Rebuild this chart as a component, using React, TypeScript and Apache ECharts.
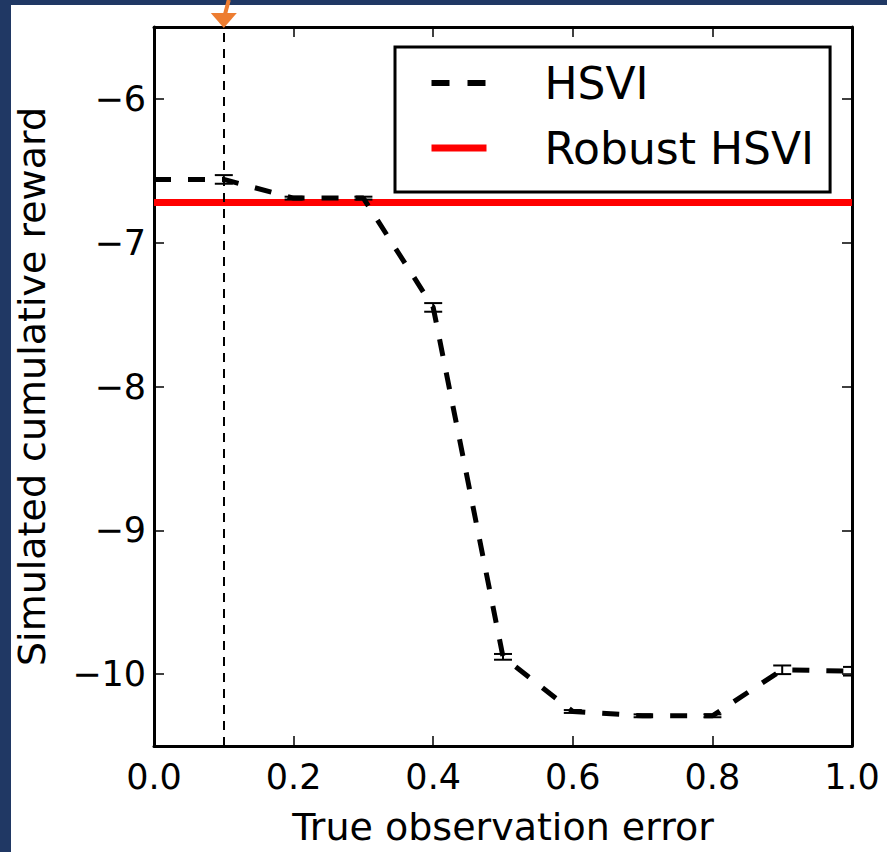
import React, { useEffect, useRef } from 'react';
import * as echarts from 'echarts';

const xValues = [0, 0.1, 0.2, 0.3, 0.4, 0.5, 0.6, 0.7, 0.8, 0.9, 1.0];
const hsviMean = [-6.56, -6.56, -6.69, -6.69, -7.45, -9.88, -10.26, -10.29, -10.29, -9.97, -9.98];
const hsviErr = [0.01, 0.03, 0.01, 0.01, 0.03, 0.02, 0.01, 0.01, 0.01, 0.03, 0.03];
const robustX = [0, 1];
const robustValues = [-6.72, -6.72];
const markerX = 0.1;
const seriesNames = ['HSVI', 'Robust HSVI'];
const xTitle = 'True observation error';
const yTitle = 'Simulated cumulative reward';

const FONT = 'DejaVu Sans';

const mkLine = () => ({ show: true, onZero: false, lineStyle: { color: '#000', width: 3 } });
const mkTick = () => ({ show: true, inside: true, length: 10, lineStyle: { color: '#000', width: 1.5 } });

export default function App() {
  const ref = useRef<HTMLDivElement>(null);
  useEffect(() => {
    const chart = echarts.init(ref.current!, null, { renderer: 'svg' });
    const option: any = {
      animation: false,
      backgroundColor: '#ffffff',
      grid: { left: 154, top: 27, right: 35, bottom: 106, containLabel: false },
      legend: {
        left: 395,
        top: 47,
        orient: 'vertical',
        data: [
          { name: seriesNames[0], itemStyle: { color: 'rgba(0,0,0,0)', borderWidth: 0 }, lineStyle: { color: '#000', width: 6, type: [18, 18] } },
          { name: seriesNames[1], itemStyle: { color: 'rgba(0,0,0,0)', borderWidth: 0 }, lineStyle: { color: '#ff0000', width: 7, type: 'solid' } },
        ],
        padding: [14, 16, 22, 33],
        itemGap: 21,
        itemWidth: 55,
        itemHeight: 14,
        borderColor: '#000',
        borderWidth: 3,
        borderRadius: 0,
        backgroundColor: '#fff',
        textStyle: { fontFamily: FONT, fontSize: 44, color: '#000', padding: [0, 0, 0, 53] },
      },
      xAxis: [
        {
          type: 'value', min: 0, max: 1, interval: 0.2, position: 'bottom',
          name: xTitle, nameLocation: 'middle', nameGap: 62,
          nameTextStyle: { fontFamily: FONT, fontSize: 38, color: '#000' },
          axisLine: mkLine(), axisTick: mkTick(), splitLine: { show: false },
          axisLabel: { fontFamily: FONT, fontSize: 35, color: '#000', margin: 13, formatter: (v: number) => v.toFixed(1) },
        },
        {
          type: 'value', min: 0, max: 1, interval: 0.2, position: 'top',
          axisLine: mkLine(), axisTick: mkTick(), splitLine: { show: false }, axisLabel: { show: false },
        },
      ],
      yAxis: [
        {
          type: 'value', min: -10.5, max: -5.5, position: 'left',
          name: yTitle, nameLocation: 'middle', nameGap: 103,
          nameTextStyle: { fontFamily: FONT, fontSize: 38, color: '#000' },
          axisLine: mkLine(), axisTick: mkTick(), splitLine: { show: false },
          axisLabel: {
            fontFamily: FONT, fontSize: 35, color: '#000', margin: 8,
            formatter: (v: number) => (Math.abs(v - Math.round(v)) < 1e-6 ? String(Math.round(v)).replace('-', '\u2212') : ''),
          },
        },
        {
          type: 'value', min: -10.5, max: -5.5, position: 'right',
          axisLine: mkLine(), axisTick: mkTick(), splitLine: { show: false }, axisLabel: { show: false },
        },
      ],
      series: [
        {
          name: 'Robust HSVI', type: 'line', symbol: 'none', z: 2,
          data: robustX.map((x, i) => [x, robustValues[i]]),
          lineStyle: { color: '#ff0000', width: 7 },
          itemStyle: { color: '#ff0000' },
        },
        {
          name: 'HSVI', type: 'line', symbol: 'none', z: 4,
          data: xValues.map((x, i) => [x, hsviMean[i]]),
          lineStyle: { color: '#000', width: 5, type: [17, 17], cap: 'butt' },
          itemStyle: { color: '#000' },
          markLine: {
            silent: true, symbol: ['none', 'none'], label: { show: false },
            lineStyle: { color: '#000', width: 2, type: [9, 7] },
            data: [{ xAxis: markerX }],
          },
        },
        {
          name: 'err', type: 'custom', z: 5, clip: true, silent: true,
          data: xValues.map((x, i) => [x, hsviMean[i] - hsviErr[i], hsviMean[i] + hsviErr[i]]),
          encode: { x: 0, y: [1, 2] },
          renderItem: (params: any, api: any) => {
            const x = api.value(0);
            const pLo = api.coord([x, api.value(1)]);
            const pHi = api.coord([x, api.value(2)]);
            const w = 9;
            const style = { stroke: '#000', lineWidth: 2, fill: 'none' };
            return {
              type: 'group',
              children: [
                { type: 'line', shape: { x1: pLo[0], y1: pLo[1], x2: pHi[0], y2: pHi[1] }, style },
                { type: 'line', shape: { x1: pLo[0] - w, y1: pLo[1], x2: pLo[0] + w, y2: pLo[1] }, style },
                { type: 'line', shape: { x1: pHi[0] - w, y1: pHi[1], x2: pHi[0] + w, y2: pHi[1] }, style },
              ],
            };
          },
        },
      ],
    };
    chart.setOption(option);
    const p = chart.convertToPixel({ xAxisIndex: 0, yAxisIndex: 0 }, [markerX, -5.5]);
    const ax = p[0];
    const ay = p[1];
    chart.setOption({
      graphic: [
        { type: 'rect', shape: { x: 0, y: 0, width: 11, height: 852 }, style: { fill: '#203864' }, z: 100 },
        { type: 'rect', shape: { x: 0, y: 0, width: 887, height: 5 }, style: { fill: '#203864' }, z: 100 },
        { type: 'line', shape: { x1: ax + 5, y1: 0, x2: ax + 1, y2: ay - 12 }, style: { stroke: '#ED7D31', lineWidth: 4 }, z: 101 },
        { type: 'polygon', shape: { points: [[ax - 13, ay - 14], [ax + 13, ay - 14], [ax, ay + 1]] }, style: { fill: '#ED7D31' }, z: 101 },
      ],
    });
    return () => chart.dispose();
  }, []);
  return <div ref={ref} style={{ position: 'fixed', left: 0, top: 0, width: 887, height: 852 }} />;
}
